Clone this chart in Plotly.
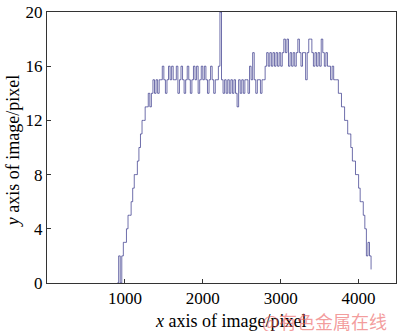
import plotly.graph_objects as go

# Column positions (image x pixel), sampled every 20 pixels starting at 900
x_start = 900
x_step = 20

# y values, segment by segment
y_rise = [0, 2, 0, 2, 3, 3, 4, 5, 5, 6,
          7, 8, 8, 9, 10, 11, 12, 12, 13, 13,
          14, 13, 14]
y_plateau1 = [15, 14, 15, 14, 15, 15, 16, 15, 14, 15,
              16, 15, 16, 15, 15, 16, 14, 15, 16, 15,
              14, 15, 16, 15, 14, 15, 16, 15, 16, 14,
              15, 16, 15, 16, 15, 14, 15, 16, 15, 14,
              15, 15, 16, 20, 15, 14, 15, 14, 15, 14,
              15, 14, 15, 14, 13, 15, 14, 15, 14, 15,
              15, 14, 16, 15, 17, 15, 14, 15, 15, 14,
              15, 15]
y_plateau2 = [16, 17, 16, 17, 16, 17, 16, 17, 16, 17,
              16, 17, 18, 17, 18, 16, 17, 16, 17, 16,
              17, 18, 17, 16, 17, 17, 15, 17, 18, 18,
              17, 16, 17, 16, 17, 16, 18, 17, 16, 17,
              16, 16, 15, 16, 15]
y_descent = [15, 15, 14, 14, 13, 13, 12, 12, 11, 11,
             10, 9, 9, 8, 8, 7, 6, 6, 5, 4,
             2, 3, 2, 1]

y_vals = y_rise + y_plateau1 + y_plateau2 + y_descent
x_vals = [x_start + i * x_step for i in range(len(y_vals))]

x_ticks = [1000, 2000, 3000, 4000]
y_ticks = [0, 4, 8, 12, 16, 20]

serif = "Liberation Serif, Times New Roman, serif"

fig = go.Figure()
fig.add_trace(go.Scatter(
    x=x_vals, y=y_vals, mode="lines", line_shape="hv",
    line=dict(color="rgba(40,40,130,0.75)", width=0.9),
    showlegend=False, hoverinfo="skip",
))

axis_common = dict(
    showline=True, mirror=True, linecolor="#333333", linewidth=1,
    showgrid=False, zeroline=False, ticks="inside", ticklen=4,
    tickcolor="#333333", tickfont=dict(family=serif, size=17, color="black"),
    ticklabeloverflow="allow",
)
fig.update_xaxes(range=[0, 4480], tickvals=x_ticks, **axis_common)
fig.update_yaxes(range=[0, 20], tickvals=y_ticks, **axis_common)

fig.update_layout(
    width=400, height=331,
    margin=dict(l=47, r=3, t=6, b=48),
    plot_bgcolor="white", paper_bgcolor="white",
    annotations=[
        dict(text="<i>x</i> axis of image/pixel", xref="paper", yref="paper",
             x=0.526, y=-0.141, showarrow=False, xanchor="center", yanchor="middle",
             font=dict(family=serif, size=18, color="black")),
        dict(text="<i>y</i> axis of image/pixel", xref="paper", yref="paper",
             x=-0.097, y=0.487, showarrow=False, textangle=-90,
             xanchor="center", yanchor="middle",
             font=dict(family=serif, size=18, color="black")),
        dict(text="@有色金属在线", xref="paper", yref="paper",
             x=0.794, y=-0.141, showarrow=False, xanchor="center", yanchor="middle",
             font=dict(family="Noto Sans CJK SC", size=18, color="rgba(235,90,90,0.6)")),
    ],
)

fig.write_html("out.html", config={"displayModeBar": False},
               post_script="document.body.style.margin='0';")
